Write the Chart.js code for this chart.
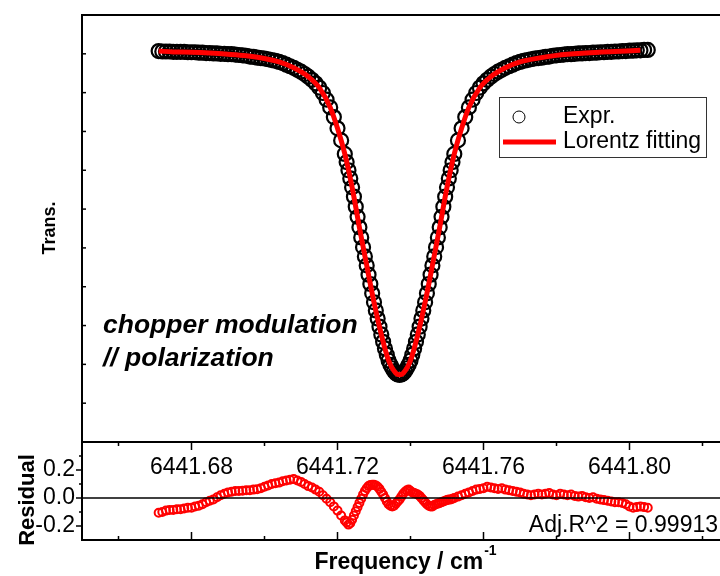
<!DOCTYPE html>
<html>
<head>
<meta charset="utf-8">
<script src="https://cdn.jsdelivr.net/npm/chart.js@4.4.0/dist/chart.umd.min.js"></script>
<style>
  html, body { margin: 0; padding: 0; background: #fff; overflow: hidden; }
  #wrap { position: relative; width: 720px; height: 576px; overflow: hidden; background: #fff; }
  #wrap canvas { position: absolute; left: 0; top: 0; }
</style>
</head>
<body>
<div id="wrap">
  <canvas id="mainChart" width="760" height="576"></canvas>
  <canvas id="resChart" width="760" height="576"></canvas>
</div>
<script>
/* ── DATA ───────────────────────────────────── */
const freq = [
  6441.671, 6441.672, 6441.673, 6441.674, 6441.675, 6441.676, 6441.677, 6441.678, 6441.679, 6441.680,
  6441.681, 6441.682, 6441.683, 6441.684, 6441.685, 6441.686, 6441.687, 6441.688, 6441.689, 6441.690,
  6441.691, 6441.692, 6441.693, 6441.694, 6441.695, 6441.696, 6441.697, 6441.698, 6441.699, 6441.700,
  6441.701, 6441.702, 6441.703, 6441.704, 6441.705, 6441.706, 6441.707, 6441.708, 6441.709, 6441.710,
  6441.711, 6441.712, 6441.713, 6441.714, 6441.715, 6441.716, 6441.717, 6441.718, 6441.719, 6441.720,
  6441.721, 6441.722,
  6441.7225, 6441.723, 6441.7235, 6441.724, 6441.7245, 6441.725, 6441.7255, 6441.726, 6441.7265, 6441.727,
  6441.7275, 6441.728, 6441.7285, 6441.729, 6441.7295, 6441.730, 6441.7305, 6441.731, 6441.7315, 6441.732,
  6441.7325, 6441.733, 6441.7335, 6441.734, 6441.7345, 6441.735, 6441.7355, 6441.736, 6441.7365, 6441.737,
  6441.7375, 6441.738, 6441.7385, 6441.739, 6441.7395, 6441.740, 6441.7405, 6441.741, 6441.7415, 6441.742,
  6441.7425, 6441.743, 6441.7435, 6441.744, 6441.7445, 6441.745, 6441.7455, 6441.746, 6441.7465, 6441.747,
  6441.7475, 6441.748, 6441.7485, 6441.749, 6441.7495, 6441.750, 6441.7505, 6441.751, 6441.7515, 6441.752,
  6441.753, 6441.754, 6441.755, 6441.756, 6441.757, 6441.758, 6441.759, 6441.760, 6441.761, 6441.762,
  6441.763, 6441.764, 6441.765, 6441.766, 6441.767, 6441.768, 6441.769, 6441.770, 6441.771, 6441.772,
  6441.773, 6441.774, 6441.775, 6441.776, 6441.777, 6441.778, 6441.779, 6441.780, 6441.781, 6441.782,
  6441.783, 6441.784, 6441.785, 6441.786, 6441.787, 6441.788, 6441.789, 6441.790, 6441.791, 6441.792,
  6441.793, 6441.794, 6441.795, 6441.796, 6441.797, 6441.798, 6441.799, 6441.800, 6441.801, 6441.802,
  6441.803, 6441.804, 6441.805
];
const trans = [
  1.007, 1.006, 1.006, 1.006, 1.005, 1.005, 1.005, 1.005, 1.004, 1.004,
  1.004, 1.003, 1.003, 1.002, 1.002, 1.001, 1.001, 1.000, 1.000, 0.999,
  0.999, 0.998, 0.997, 0.996, 0.995, 0.993, 0.992, 0.990, 0.989, 0.988,
  0.986, 0.984, 0.982, 0.979, 0.976, 0.972, 0.968, 0.964, 0.959, 0.954,
  0.948, 0.941, 0.933, 0.924, 0.913, 0.899, 0.882, 0.862, 0.837, 0.808,
  0.777, 0.742,
  0.721, 0.700, 0.679, 0.656, 0.632, 0.606, 0.580, 0.553, 0.527, 0.502,
  0.478, 0.455, 0.431, 0.407, 0.383, 0.360, 0.339, 0.318, 0.297, 0.277,
  0.258, 0.241, 0.225, 0.210, 0.199, 0.190, 0.182, 0.177, 0.174, 0.173,
  0.174, 0.177, 0.182, 0.190, 0.199, 0.210, 0.225, 0.241, 0.258, 0.277,
  0.297, 0.318, 0.339, 0.360, 0.383, 0.407, 0.431, 0.455, 0.478, 0.502,
  0.527, 0.553, 0.580, 0.606, 0.632, 0.656, 0.679, 0.700, 0.721, 0.742,
  0.777, 0.808, 0.837, 0.862, 0.882, 0.899, 0.913, 0.924, 0.933, 0.941,
  0.948, 0.954, 0.959, 0.964, 0.968, 0.972, 0.976, 0.979, 0.982, 0.984,
  0.986, 0.988, 0.989, 0.990, 0.992, 0.993, 0.995, 0.996, 0.997, 0.998,
  0.999, 0.999, 1.000, 1.001, 1.001, 1.002, 1.002, 1.003, 1.003, 1.004,
  1.004, 1.005, 1.005, 1.006, 1.006, 1.007, 1.007, 1.008, 1.008, 1.009,
  1.009, 1.010, 1.010
];
const residual = [
  -0.105, -0.100, -0.090, -0.085, -0.085, -0.080, -0.080, -0.075, -0.070, -0.070,
  -0.060, -0.055, -0.045, -0.030, -0.020, -0.010, 0.005, 0.020, 0.030, 0.040,
  0.045, 0.050, 0.050, 0.052, 0.055, 0.055, 0.060, 0.062, 0.070, 0.080,
  0.090, 0.100, 0.105, 0.110, 0.120, 0.125, 0.130, 0.135, 0.125, 0.115,
  0.100, 0.085, 0.075, 0.060, 0.045, 0.020, -0.005, -0.030, -0.060, -0.090,
  -0.125, -0.160,
  -0.175, -0.190, -0.180, -0.155, -0.125, -0.095, -0.065, -0.035, -0.005, 0.025,
  0.050, 0.070, 0.085, 0.092, 0.095, 0.095, 0.090, 0.080, 0.065, 0.045,
  0.025, 0.000, -0.025, -0.045, -0.055, -0.060, -0.055, -0.040, -0.025, -0.010,
  0.010, 0.030, 0.045, 0.055, 0.060, 0.050, 0.040, 0.035, 0.030, 0.025,
  0.015, 0.000, -0.015, -0.030, -0.045, -0.055, -0.060, -0.060, -0.050, -0.045,
  -0.040, -0.035, -0.030, -0.025, -0.020, -0.015, -0.010, -0.010, -0.005, 0.000,
  0.010, 0.020, 0.030, 0.040, 0.050, 0.060, 0.065, 0.070, 0.080, 0.075,
  0.070, 0.065, 0.070, 0.060, 0.055, 0.050, 0.045, 0.040, 0.030, 0.025,
  0.020, 0.025, 0.030, 0.025, 0.030, 0.035, 0.025, 0.020, 0.030, 0.025,
  0.020, 0.025, 0.015, 0.010, 0.015, 0.005, 0.000, 0.005, -0.005, -0.010,
  -0.015, -0.020, -0.025, -0.030, -0.030, -0.035, -0.045, -0.060, -0.070, -0.065,
  -0.060, -0.065, -0.070
];
const fitFreq = [
  6441.671, 6441.675, 6441.680, 6441.685, 6441.690, 6441.695, 6441.700, 6441.704, 6441.708, 6441.712,
  6441.715, 6441.718, 6441.720, 6441.722, 6441.724, 6441.726, 6441.728, 6441.730, 6441.732, 6441.734,
  6441.736, 6441.737, 6441.738, 6441.740, 6441.742, 6441.744, 6441.746, 6441.748, 6441.750, 6441.752,
  6441.754, 6441.756, 6441.759, 6441.762, 6441.766, 6441.770, 6441.775, 6441.780, 6441.788, 6441.796,
  6441.803
];
const fitTrans = [
  1.007, 1.005, 1.004, 1.002, 0.999, 0.995, 0.988, 0.979, 0.964, 0.941,
  0.913, 0.862, 0.808, 0.742, 0.656, 0.553, 0.455, 0.360, 0.277, 0.210,
  0.177, 0.173, 0.177, 0.210, 0.277, 0.360, 0.455, 0.553, 0.656, 0.742,
  0.808, 0.862, 0.913, 0.941, 0.964, 0.979, 0.989, 0.996, 1.002, 1.006,
  1.009
];
const xTicks  = [6441.66, 6441.68, 6441.70, 6441.72, 6441.74, 6441.76, 6441.78, 6441.80, 6441.82];
const xLabels = ['6441.68', '6441.72', '6441.76', '6441.80'];
const mainYTicks = [0.1, 0.2, 0.3, 0.4, 0.5, 0.6, 0.7, 0.8, 0.9, 1.0];
const resYTicks  = [-0.2, -0.1, 0, 0.1, 0.2, 0.3];
const resYLabels = ['-0.2', '0.0', '0.2'];
const adjR2 = '0.99913';

/* ── DEFAULTS ───────────────────────────────── */
const FONT = '"Liberation Sans", Arial, sans-serif';
Chart.defaults.font.family = FONT;
Chart.defaults.color = '#000';

const expPoints = freq.map((f, i) => ({ x: f, y: trans[i] }));
const fitPoints = fitFreq.map((f, i) => ({ x: f, y: fitTrans[i] }));
const resPoints = freq.map((f, i) => ({ x: f, y: residual[i] }));

const X_MIN = 6441.65, X_MAX = 6441.83;
const AXIS_W = 82;

/* ── MAIN PANEL DECOR ───────────────────────── */
const mainDecor = {
    id: 'mainDecor',
    afterDraw(chart) {
        const { ctx, chartArea: a, scales: { y } } = chart;
        ctx.save();
        ctx.strokeStyle = '#000';
        ctx.lineWidth = 1.5;
        mainYTicks.forEach(v => {
            const py = y.getPixelForValue(v);
            ctx.beginPath(); ctx.moveTo(a.left, py); ctx.lineTo(a.left + 4, py); ctx.stroke();
        });
        ctx.lineWidth = 2;
        ctx.strokeRect(a.left, a.top, a.right - a.left, a.bottom - a.top);

        // legend box
        ctx.lineWidth = 1;
        ctx.strokeStyle = '#333';
        ctx.fillStyle = '#fff';
        ctx.fillRect(499, 97, 207, 60);
        ctx.strokeRect(499.5, 97.5, 207, 60);
        ctx.beginPath(); ctx.arc(519, 117, 6, 0, Math.PI * 2);
        ctx.fillStyle = '#fff'; ctx.fill();
        ctx.strokeStyle = '#000'; ctx.stroke();
        ctx.strokeStyle = '#ff0000'; ctx.lineWidth = 5;
        ctx.beginPath(); ctx.moveTo(503, 142); ctx.lineTo(556, 142); ctx.stroke();
        ctx.fillStyle = '#000';
        ctx.font = '23px ' + FONT;
        ctx.textBaseline = 'middle';
        ctx.textAlign = 'left';
        ctx.fillText('Expr.', 563, 117);
        ctx.fillText('Lorentz fitting', 563, 142);

        // annotation
        ctx.font = 'italic bold 26.5px ' + FONT;
        ctx.fillText('chopper modulation', 103, 326);
        ctx.fillText('// polarization', 103, 359);

        // y title
        ctx.font = 'bold 18px ' + FONT;
        ctx.textAlign = 'center';
        ctx.translate(50, 228);
        ctx.rotate(-Math.PI / 2);
        ctx.fillText('Trans.', 0, 0);
        ctx.restore();
    }
};

/* ── RESIDUAL PANEL DECOR ───────────────────── */
const resDecor = {
    id: 'resDecor',
    afterDatasetsDraw(chart) {
        const { ctx, chartArea: a, scales: { y } } = chart;
        const py = y.getPixelForValue(0);
        ctx.save();
        ctx.strokeStyle = '#000';
        ctx.lineWidth = 1.5;
        ctx.beginPath(); ctx.moveTo(a.left, py); ctx.lineTo(a.right, py); ctx.stroke();
        ctx.restore();
    },
    afterDraw(chart) {
        const { ctx, chartArea: a, scales: { x, y } } = chart;
        ctx.save();
        ctx.strokeStyle = '#000';
        ctx.lineWidth = 1.5;
        xTicks.forEach(v => {
            const px = x.getPixelForValue(v);
            const len = xLabels.includes(v.toFixed(2)) ? 8 : 4;
            ctx.beginPath();
            ctx.moveTo(px, a.top); ctx.lineTo(px, a.top + len);
            ctx.moveTo(px, a.bottom); ctx.lineTo(px, a.bottom - len);
            ctx.stroke();
        });
        resYTicks.forEach(v => {
            const py = y.getPixelForValue(v);
            const len = resYLabels.includes(v.toFixed(1)) ? 6 : 3;
            ctx.beginPath(); ctx.moveTo(a.left, py); ctx.lineTo(a.left - len, py); ctx.stroke();
        });
        ctx.lineWidth = 2;
        ctx.strokeRect(a.left, a.top, a.right - a.left, a.bottom - a.top);

        ctx.fillStyle = '#000';
        ctx.textBaseline = 'middle';
        ctx.font = '23px ' + FONT;
        ctx.textAlign = 'right';
        ctx.fillText('Adj.R^2 = ' + adjR2, 718, 526);

        // x title with superscript
        ctx.textAlign = 'left';
        ctx.font = 'bold 23px ' + FONT;
        const main = 'Frequency / cm';
        const w1 = ctx.measureText(main).width;
        ctx.font = 'bold 14px ' + FONT;
        const w2 = ctx.measureText('-1').width;
        const x0 = 405 - (w1 + w2) / 2;
        ctx.font = 'bold 23px ' + FONT;
        ctx.fillText(main, x0, 563);
        ctx.font = 'bold 14px ' + FONT;
        ctx.fillText('-1', x0 + w1 + 1, 551);

        // y title
        ctx.font = 'bold 22px ' + FONT;
        ctx.textAlign = 'center';
        ctx.translate(28, 500);
        ctx.rotate(-Math.PI / 2);
        ctx.fillText('Residual', 0, 0);
        ctx.restore();
    }
};

/* ── MAIN CHART ─────────────────────────────── */
new Chart(document.getElementById('mainChart'), {
    type: 'scatter',
    data: {
        datasets: [
            {
                label: 'Lorentz fitting',
                data: fitPoints,
                showLine: true,
                borderColor: '#ff0000',
                borderWidth: 5,
                pointRadius: 0,
                cubicInterpolationMode: 'monotone',
                order: 0,
            },
            {
                label: 'Expr.',
                data: expPoints,
                pointRadius: 7,
                pointBorderWidth: 2.2,
                pointBorderColor: '#000',
                pointBackgroundColor: 'rgba(255,255,255,0)',
                order: 1,
            }
        ]
    },
    options: {
        responsive: false, animation: false, events: [],
        layout: { padding: { top: 15, right: 21, left: 0, bottom: 84 } },
        plugins: { legend: { display: false }, tooltip: { enabled: false } },
        scales: {
            x: {
                type: 'linear', min: X_MIN, max: X_MAX,
                grid: { display: false, drawTicks: false }, border: { display: false },
                afterBuildTicks: s => { s.ticks = xTicks.map(v => ({ value: v })); },
                afterFit: s => { s.height = 50; },
                ticks: {
                    autoSkip: false, maxRotation: 0, minRotation: 0, padding: 12,
                    font: { size: 23 }, color: '#000',
                    callback: v => { const s = v.toFixed(2); return xLabels.includes(s) ? s : ''; }
                }
            },
            y: {
                min: 0, max: 1.1,
                grid: { display: false, drawTicks: false }, border: { display: false },
                ticks: { display: false },
                afterFit: s => { s.width = AXIS_W; }
            }
        }
    },
    plugins: [mainDecor]
});

/* ── RESIDUAL CHART ─────────────────────────── */
new Chart(document.getElementById('resChart'), {
    type: 'scatter',
    data: {
        datasets: [{
            label: 'Residual',
            data: resPoints,
            pointRadius: 4,
            pointBorderWidth: 2,
            pointBorderColor: '#ff0000',
            pointBackgroundColor: 'rgba(255,255,255,0)',
        }]
    },
    options: {
        responsive: false, animation: false, events: [],
        layout: { padding: { top: 442, right: 21, left: 0, bottom: 36 } },
        plugins: { legend: { display: false }, tooltip: { enabled: false } },
        scales: {
            x: { type: 'linear', min: X_MIN, max: X_MAX, display: false },
            y: {
                min: -0.3, max: 0.4,
                grid: { display: false, drawTicks: false }, border: { display: false },
                afterBuildTicks: s => { s.ticks = resYTicks.map(v => ({ value: v })); },
                afterFit: s => { s.width = AXIS_W; },
                ticks: {
                    padding: 7, font: { size: 23 }, color: '#000',
                    callback: v => { const s = v.toFixed(1); return resYLabels.includes(s) ? s : ''; }
                }
            }
        }
    },
    plugins: [resDecor]
});
</script>
</body>
</html>
